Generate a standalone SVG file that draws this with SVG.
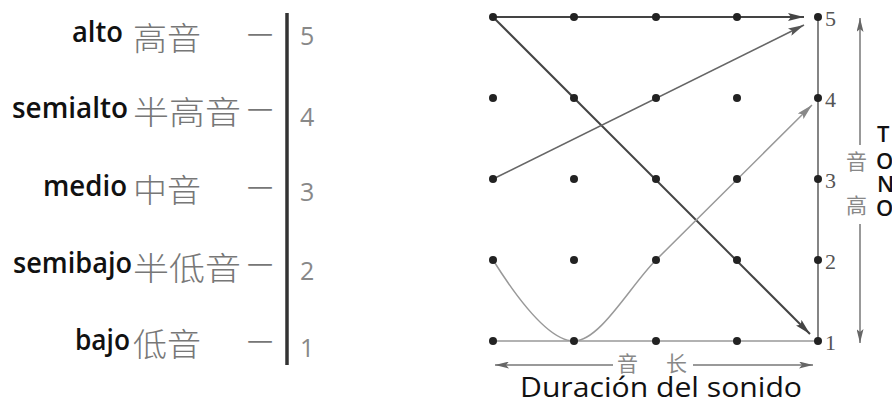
<svg xmlns="http://www.w3.org/2000/svg" width="892" height="407" viewBox="0 0 892 407">
<defs>
<style>
.es{font-family:"Open Sans","Liberation Sans",sans-serif;font-weight:600;font-size:28px;fill:#111}
.zh{font-family:"Noto Sans CJK SC",sans-serif;font-weight:300;font-size:32px;fill:#777}
.num{font-family:"Open Sans","Liberation Sans",sans-serif;font-weight:400;font-size:25px;fill:#888}
.rnum{font-family:"Liberation Serif",serif;font-size:22px;fill:#555}
.zhs{font-family:"Noto Sans CJK SC",sans-serif;font-weight:400;font-size:21px;fill:#888}
.ton{font-family:"Open Sans","Liberation Sans",sans-serif;font-weight:600;font-size:22px;fill:#111}
.dot{fill:#222}
.dk{stroke:#444;stroke-width:2;fill:none}
.md{stroke:#666;stroke-width:1.6;fill:none}
.lt{stroke:#999;stroke-width:1.5;fill:none}
.ax{stroke:#777;stroke-width:1.5;fill:none}
</style>
<marker id="ad" viewBox="0 0 16 8" markerWidth="16" markerHeight="8" refX="16" refY="4" orient="auto" markerUnits="userSpaceOnUse"><path d="M0,0 L16,4 L0,8 L3,4 z" fill="#444"/></marker>
<marker id="am" viewBox="0 0 16 8" markerWidth="16" markerHeight="8" refX="16" refY="4" orient="auto" markerUnits="userSpaceOnUse"><path d="M0,0 L16,4 L0,8 L3,4 z" fill="#555"/></marker>
<marker id="al" viewBox="0 0 16 8" markerWidth="16" markerHeight="8" refX="16" refY="4" orient="auto" markerUnits="userSpaceOnUse"><path d="M0,0 L16,4 L0,8 L3,4 z" fill="#888"/></marker>
<marker id="ax" viewBox="0 0 14 7" markerWidth="14" markerHeight="7" refX="14" refY="3.5" orient="auto" markerUnits="userSpaceOnUse"><path d="M0,0 L14,3.5 L0,7 L3,3.5 z" fill="#666"/></marker>
</defs>
<rect width="892" height="407" fill="#fff"/>

<g id="scale-left">
<line x1="287" y1="13" x2="287" y2="365" stroke="#333" stroke-width="3.5"/>
<text class="es" x="72" y="42" textLength="51" lengthAdjust="spacingAndGlyphs">alto</text>
<text class="zh" x="133" y="36" dominant-baseline="central" textLength="68" lengthAdjust="spacingAndGlyphs">高音</text>
<text class="zh" x="247" y="33" dominant-baseline="central" textLength="26" lengthAdjust="spacingAndGlyphs">一</text>
<text class="num" x="300" y="45">5</text>

<text class="es" x="12" y="118" textLength="116" lengthAdjust="spacingAndGlyphs">semialto</text>
<text class="zh" x="133" y="110" dominant-baseline="central" textLength="108" lengthAdjust="spacingAndGlyphs">半高音</text>
<text class="zh" x="247" y="108" dominant-baseline="central" textLength="26" lengthAdjust="spacingAndGlyphs">一</text>
<text class="num" x="300" y="126">4</text>

<text class="es" x="43" y="196" textLength="84" lengthAdjust="spacingAndGlyphs">medio</text>
<text class="zh" x="133" y="188" dominant-baseline="central" textLength="68" lengthAdjust="spacingAndGlyphs">中音</text>
<text class="zh" x="247" y="186" dominant-baseline="central" textLength="26" lengthAdjust="spacingAndGlyphs">一</text>
<text class="num" x="300" y="201">3</text>

<text class="es" x="13" y="273" textLength="119" lengthAdjust="spacingAndGlyphs">semibajo</text>
<text class="zh" x="133" y="266" dominant-baseline="central" textLength="108" lengthAdjust="spacingAndGlyphs">半低音</text>
<text class="zh" x="247" y="263" dominant-baseline="central" textLength="26" lengthAdjust="spacingAndGlyphs">一</text>
<text class="num" x="300" y="280">2</text>

<text class="es" x="75" y="350" textLength="55" lengthAdjust="spacingAndGlyphs">bajo</text>
<text class="zh" x="133" y="342" dominant-baseline="central" textLength="68" lengthAdjust="spacingAndGlyphs">低音</text>
<text class="zh" x="247" y="340" dominant-baseline="central" textLength="26" lengthAdjust="spacingAndGlyphs">一</text>
<text class="num" x="300" y="357">1</text>
</g>

<g id="connectors">
<line class="md" x1="818" y1="17" x2="818" y2="341"/>
<line class="lt" x1="493" y1="341" x2="818" y2="341"/>
<line class="dk" x1="493" y1="17" x2="804" y2="17" marker-end="url(#ad)"/>
<line class="dk" x1="493" y1="17" x2="810" y2="334" marker-end="url(#ad)"/>
<line class="md" x1="493" y1="179" x2="804" y2="25" marker-end="url(#am)"/>
<path class="lt" d="M493,260 C515,295 548,341 574,341 C600,341 630,286 656,260 L812,105" marker-end="url(#al)"/>
<line class="ax" x1="860" y1="145" x2="860" y2="18" marker-end="url(#ax)"/>
<line class="ax" x1="860" y1="224" x2="860" y2="343" marker-end="url(#ax)"/>
<line class="ax" x1="613" y1="365" x2="495" y2="365" marker-end="url(#ax)"/>
<line class="ax" x1="693" y1="365" x2="813" y2="365" marker-end="url(#ax)"/>
</g>

<g id="grid-dots">
<circle class="dot" cx="493" cy="17" r="4"/><circle class="dot" cx="574" cy="17" r="4"/><circle class="dot" cx="656" cy="17" r="4"/><circle class="dot" cx="737" cy="17" r="4"/><circle class="dot" cx="818" cy="17" r="4"/>
<circle class="dot" cx="493" cy="98" r="4"/><circle class="dot" cx="574" cy="98" r="4"/><circle class="dot" cx="656" cy="98" r="4"/><circle class="dot" cx="737" cy="98" r="4"/><circle class="dot" cx="818" cy="98" r="4"/>
<circle class="dot" cx="493" cy="179" r="4"/><circle class="dot" cx="574" cy="179" r="4"/><circle class="dot" cx="656" cy="179" r="4"/><circle class="dot" cx="737" cy="179" r="4"/><circle class="dot" cx="818" cy="179" r="4"/>
<circle class="dot" cx="493" cy="260" r="4"/><circle class="dot" cx="574" cy="260" r="4"/><circle class="dot" cx="656" cy="260" r="4"/><circle class="dot" cx="737" cy="260" r="4"/><circle class="dot" cx="818" cy="260" r="4"/>
<circle class="dot" cx="493" cy="341" r="4"/><circle class="dot" cx="574" cy="341" r="4"/><circle class="dot" cx="656" cy="341" r="4"/><circle class="dot" cx="737" cy="341" r="4"/><circle class="dot" cx="818" cy="341" r="4"/>
</g>

<g id="right-numbers">
<text class="rnum" x="825" y="26">5</text>
<text class="rnum" x="825" y="107">4</text>
<text class="rnum" x="825" y="188">3</text>
<text class="rnum" x="825" y="269">2</text>
<text class="rnum" x="825" y="350">1</text>
</g>

<g id="pitch-axis-label">
<text class="zhs" x="846" y="160" dominant-baseline="central">音</text>
<text class="zhs" x="846" y="204" dominant-baseline="central">高</text>
<text class="ton"><tspan x="877" y="142">T</tspan><tspan x="876" y="169">O</tspan><tspan x="877" y="192">N</tspan><tspan x="876" y="216">O</tspan></text>
</g>

<g id="duration-axis-label">
<text class="zhs" x="617" y="362" dominant-baseline="central">音</text>
<text class="zhs" x="666" y="362" dominant-baseline="central">长</text>
<text x="520" y="397" font-family="'Open Sans','Liberation Sans',sans-serif" font-weight="500" font-size="27" fill="#111" textLength="282" lengthAdjust="spacingAndGlyphs">Duración del sonido</text>
</g>
</svg>
